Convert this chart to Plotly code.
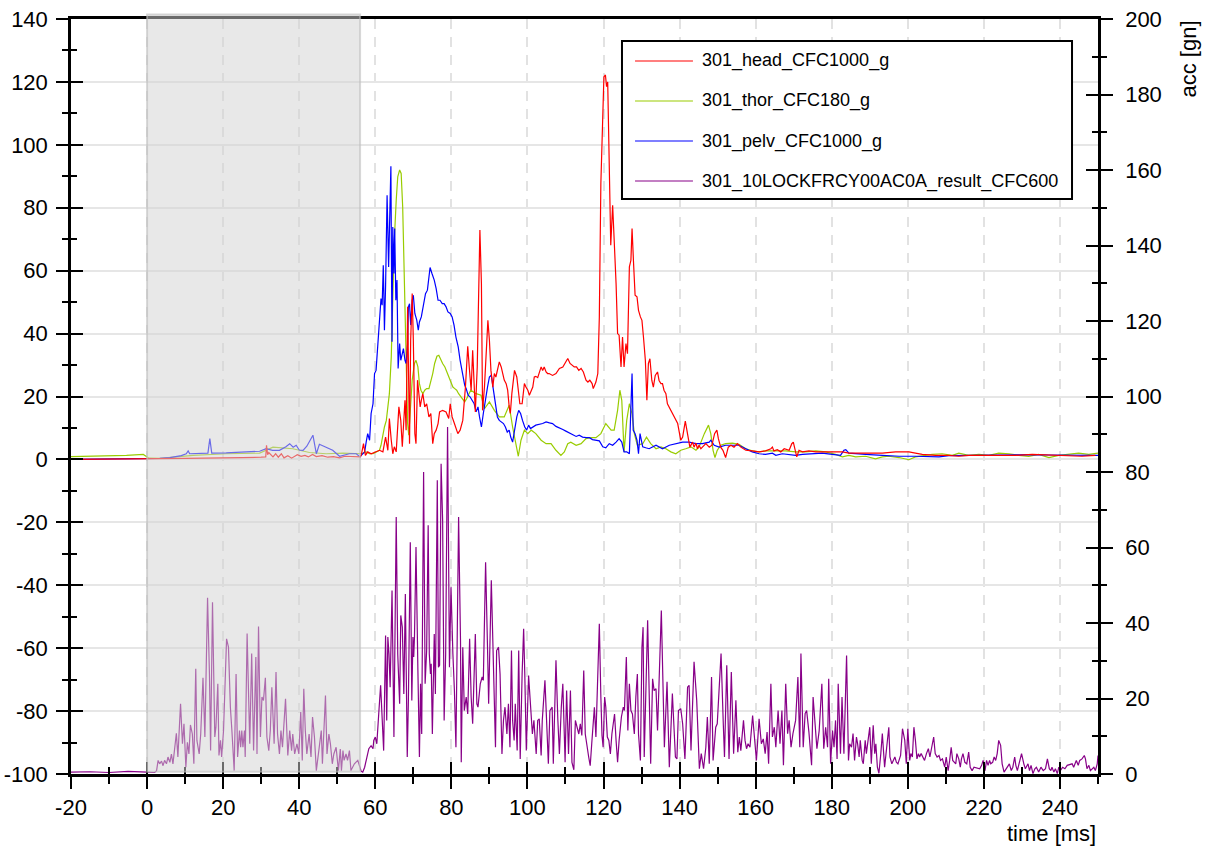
import plotly.graph_objects as go

# ---------------- data ----------------
# 301_head_CFC1000_g  (left axis)
head_t_a = [-20, -10, 0, 5, 10, 15, 20, 25, 30, 31.2,
            31.4, 31.7, 32.0, 32.6, 33.1, 33.8, 34.5, 35.3, 36.0, 37.0,
            38.0, 39.5, 40.5, 41.5, 42.4, 43.5, 44.5, 46.0, 47.5, 49.0,
            50.6, 52.0, 54.0, 56.0]
head_v_a = [0.0, 0.1, 0.0, 0.2, 0.3, 0.4, 0.6, 0.6, 0.7, 0.8,
            4.5, 1.5, 2.2, 1.5, 0.8, 1.8, 0.7, 1.8, 0.5, 1.2,
            0.4, 1.5, 1.0, 1.3, 0.8, 1.6, 0.9, 1.2, 0.7, 0.9,
            0.5, 1.0, 0.9, 0.8]
head_t_b = [56.3, 56.9, 57.4, 58.0, 58.9, 60.2, 61.1, 62.0, 62.7, 63.3,
            63.7, 64.2, 64.6, 65.0, 65.5, 66.2, 66.7, 67.1, 67.4, 67.8,
            68.1, 68.5, 69.0, 69.3, 69.7, 70.0, 70.4, 70.7, 71.1, 71.4,
            71.8, 72.1, 72.5, 73.0, 73.5, 74.1, 74.6, 75.1, 75.5, 76.0,
            76.5]
head_v_b = [1.3, 5.0, 1.3, 2.4, 1.8, 2.4, 2.9, 2.4, 7.1, 2.9,
            13.0, 6.1, 1.8, 4.0, 2.4, 16.7, 12.4, 4.0, 9.3, 18.8,
            9.3, 48.5, 5.0, 37.9, 52.7, 37.9, 8.2, 5.0, 25.2, 20.9,
            16.7, 18.8, 20.9, 16.7, 17.7, 13.5, 14.6, 5.0, 8.2, 9.3,
            11.4]
head_t_c = [76.9, 77.7, 78.6, 79.3, 79.7, 80.2, 80.8, 81.7, 82.3, 83.0,
            83.7, 84.3, 84.7, 85.2, 85.6, 86.1, 86.3, 86.8, 87.2, 87.5,
            87.9, 88.2, 88.7, 89.1, 89.6, 90.0, 90.4, 90.9, 91.3, 91.7,
            92.2, 92.6, 93.1, 93.5, 93.9, 94.4, 94.8, 95.2, 95.5, 95.9,
            96.6, 97.2, 97.5, 98.0, 98.6, 99.2, 99.6, 100.1, 100.5, 100.9,
            101.4, 101.8, 102.2, 102.7, 103.1, 103.6, 104.0, 104.4, 104.9, 105.3,
            105.7, 106.6, 107.5, 108.4, 109.3, 110.1, 110.6, 111.2, 111.7, 112.3,
            112.9, 113.5, 114.1, 114.7, 115.4, 115.9, 116.4, 117.0, 117.3, 118.0,
            118.5]
head_v_c = [15.1, 15.6, 15.1, 13.0, 17.7, 13.5, 11.4, 8.2, 9.3, 12.4,
            23.0, 36.0, 29.4, 22.0, 34.7, 18.8, 15.1, 29.4, 50.6, 72.9,
            55.9, 15.6, 23.0, 31.5, 44.2, 37.9, 28.3, 23.0, 27.3, 26.2,
            29.4, 31.0, 29.4, 27.3, 25.2, 24.1, 22.0, 16.7, 14.6, 20.9,
            28.3, 26.2, 23.0, 17.7, 17.7, 24.1, 23.0, 22.0, 20.4, 21.5,
            23.0, 26.2, 26.4, 26.0, 27.3, 29.4, 28.3, 29.4, 27.8, 27.3,
            27.3, 26.7, 27.3, 28.9, 29.4, 31.0, 32.1, 30.5, 29.9, 29.4,
            29.4, 28.3, 28.9, 27.8, 25.2, 24.6, 25.2, 24.1, 22.5, 24.6,
            27.3]
head_t_d = [118.9, 119.3, 119.8, 120.1, 120.5, 120.8, 121.1, 121.5, 121.9, 122.4,
            122.8, 123.3, 123.7, 124.1, 124.6, 125.0, 125.4, 125.9, 126.3, 126.8,
            127.2, 127.5, 127.9, 128.3, 128.8, 129.2, 129.7, 130.1, 130.5, 131.0,
            131.4, 131.8, 132.2, 132.7, 133.1, 133.6, 134.2, 134.6, 135.1, 135.5,
            135.9, 136.4]
head_v_d = [45.3, 87.7, 114.2, 121.6, 122.2, 118.5, 120.0, 98.3, 68.1, 80.8,
            70.8, 55.9, 40.0, 39.5, 29.4, 38.9, 29.4, 36.8, 33.6, 61.2,
            63.3, 73.4, 62.3, 52.2, 51.7, 47.4, 45.3, 44.2, 38.9, 31.5,
            18.8, 30.5, 32.0, 25.1, 23.0, 26.7, 27.8, 25.1, 24.1, 24.1,
            22.0, 20.9]
head_t_e = [136.8, 138.1, 139.5, 140.3, 140.8, 141.5, 142.1, 142.7, 143.4, 143.8,
            144.3, 144.7, 145.1, 145.6, 146.0, 146.9, 147.8, 148.5, 149.2, 149.8,
            150.2, 150.8, 151.4, 152.1, 152.8, 153.5, 154.3, 155.2, 156.1, 157.4,
            159.1, 160.9, 162.6, 164.0, 164.4, 164.8, 165.7, 166.6, 167.5, 168.8,
            169.5, 169.9, 170.4, 170.8, 171.4, 172.3, 174.0, 175.8, 177.5, 180.2,
            182.8, 184.5, 186.3, 189.8, 193.3, 196.8, 200.3, 202.0, 203.8, 207.3,
            210.8, 213.4, 216.0, 219.5, 223.9, 228.3, 232.7, 237.1, 241.4, 245.8,
            249.3]
head_v_e = [17.7, 14.6, 11.4, 6.1, 7.1, 12.2, 8.2, 3.9, 5.5, 3.9,
            5.2, 3.4, 4.5, 3.4, 3.9, 5.0, 3.9, 4.5, 8.2, 9.3,
            6.6, 3.9, 2.9, 0.6, 3.9, 4.5, 3.9, 5.0, 3.9, 2.9,
            2.7, 2.4, 2.7, 3.4, 3.9, 2.7, 3.1, 2.4, 3.4, 2.9,
            5.0, 5.5, 2.9, 0.8, 2.9, 2.4, 2.7, 2.4, 2.4, 2.4,
            2.4, 2.0, 2.0, 2.0, 2.0, 2.4, 2.4, 2.0, 1.6, 1.3,
            1.3, 1.0, 1.3, 1.3, 1.3, 1.3, 1.6, 1.4, 1.3, 1.0,
            1.3]

# 301_thor_CFC180_g  (left axis)
thor_t_a = [-20, -14.2, -5.4, -1.0, 0.5, 3.3, 12.1, 20.8, 29.6, 33.1,
            38.3, 42.7, 47.1, 51.5, 55.9]
thor_v_a = [0.9, 1.0, 1.3, 1.6, 0.4, 0.3, 1.3, 1.8, 2.0, 3.9,
            3.4, 2.2, 1.8, 2.0, 2.0]
thor_t_b = [56.3, 57.6, 58.5, 59.4, 60.2, 61.1, 61.5, 62.0, 62.4, 62.9,
            63.3, 63.7, 64.2, 64.6, 65.0, 65.5, 65.9, 66.4, 66.8, 67.2,
            67.7, 68.1, 68.5, 68.8, 69.2, 69.7, 70.3, 70.7, 71.2, 71.6,
            72.0, 72.5, 73.0, 73.5, 74.1, 74.6, 75.1, 75.6, 76.2, 76.7,
            77.2, 77.7, 78.3, 78.8, 79.3, 79.8, 80.4, 80.9, 81.4, 81.9,
            82.5, 83.0, 83.5, 84.0, 84.6, 85.1]
thor_v_b = [1.8, 2.4, 1.8, 1.8, 2.4, 2.9, 4.5, 8.2, 10.3, 12.4,
            16.7, 20.9, 32.6, 53.8, 69.7, 82.4, 89.8, 92.0, 90.9, 80.3,
            53.8, 27.3, 11.4, 7.7, 16.7, 25.2, 30.5, 31.5, 29.4, 24.1,
            22.0, 20.9, 22.0, 22.5, 22.5, 24.6, 27.3, 30.5, 32.8, 33.1,
            31.5, 30.5, 29.4, 27.8, 26.2, 24.6, 23.0, 22.5, 22.0, 20.9,
            19.9, 18.8, 18.3, 19.3, 20.9, 22.0]
thor_t_c = [86.5, 87.8, 88.7, 90.0, 91.3, 92.6, 93.9, 95.2, 96.1, 97.0,
            97.6, 98.3, 99.2, 100.1, 101.0, 102.2, 103.6, 104.9, 106.2, 107.5,
            108.8, 109.7, 110.6, 111.4, 112.8, 114.1, 115.4, 116.7, 118.0, 119.3,
            120.6, 122.0, 122.8, 123.7, 124.3, 124.8, 125.4, 126.1, 126.8, 127.5,
            128.1, 128.9, 130.3, 131.3, 132.4, 133.8, 135.1, 136.4, 137.7, 139.0,
            140.3, 141.6, 143.0, 144.3]
thor_v_c = [20.9, 20.4, 16.1, 18.3, 15.6, 13.5, 13.5, 17.2, 10.3, 4.0,
            1.0, 6.1, 9.3, 8.2, 9.3, 8.2, 6.1, 5.0, 5.0, 2.9,
            1.3, 2.4, 5.0, 5.5, 4.5, 5.0, 6.6, 6.9, 6.9, 8.2,
            11.4, 9.3, 9.3, 15.6, 22.0, 18.8, 2.4, 12.4, 17.7, 14.5,
            8.2, 4.5, 5.0, 7.1, 5.0, 3.4, 4.0, 3.4, 2.4, 1.8,
            2.9, 3.4, 4.0, 2.9]
thor_t_d = [145.1, 146.5, 147.6, 148.2, 148.8, 149.3, 149.9, 150.8, 152.1, 153.9,
            155.6, 157.4, 159.1, 160.9, 162.6, 165.3, 167.9, 170.5, 173.2, 175.8,
            178.4, 181.0, 182.8, 184.5, 186.3, 188.9, 191.5, 193.3, 195.0, 197.7,
            200.3, 202.0, 204.7, 206.4, 209.0, 211.7, 213.4, 216.0, 218.7, 221.3,
            223.9, 226.6, 229.2, 231.8, 234.4, 237.1, 239.7, 242.3, 244.9, 247.6,
            250.0]
thor_v_d = [3.9, 8.2, 10.9, 8.2, 2.9, 0.6, 2.9, 4.5, 5.0, 5.2,
            4.8, 3.4, 2.7, 2.4, 2.7, 2.7, 2.7, 2.4, 2.4, 2.7,
            2.4, 1.6, 0.8, 1.3, 0.8, 1.0, 0.2, 0.8, 1.0, 0.6,
            -0.1, 0.8, 1.3, 1.6, 1.8, 1.3, 2.0, 1.3, 1.6, 1.3,
            2.0, 1.8, 1.3, 1.0, 1.6, 0.6, 1.3, 1.6, 2.0, 1.6,
            2.0]

# 301_pelv_CFC1000_g  (left axis)
pelv_t_a = [-20, -10, -5, 0, 3.3, 6.0, 9.0, 10.3, 10.8, 11.2,
            14.0, 16.0, 16.5, 17.0, 20.8, 25.0, 29.6, 31.3, 33.0, 34.8,
            36.5, 37.5, 38.4, 39.2, 40.0, 41.0, 42.0, 43.6, 44.5, 45.3,
            46.5, 48.8, 50.6, 53.2, 55.0, 56.0]
pelv_v_a = [0.0, 0.1, 0.0, 0.1, 0.3, 0.6, 1.2, 1.8, 2.7, 1.8,
            1.8, 2.0, 6.6, 2.0, 2.1, 2.3, 2.6, 3.4, 2.9, 2.9,
            4.0, 5.0, 3.9, 4.5, 3.0, 2.9, 4.2, 7.7, 1.8, 4.8,
            4.2, 2.9, 1.0, 1.8, 1.8, 0.8]
pelv_t_b = [56.3, 57.2, 57.6, 58.0, 58.5, 58.9, 59.4, 59.8, 60.2, 60.7,
            61.1, 61.5, 61.8, 62.1, 62.2, 62.4, 62.7, 63.1, 63.5, 63.7,
            64.1, 64.3, 64.4, 64.6, 64.9, 65.1, 65.4, 65.7, 66.0, 66.4,
            66.7, 67.1, 67.4, 67.8, 68.1, 68.5, 68.7, 69.0, 69.3, 69.7,
            70.0, 70.4, 70.9, 71.3, 71.6, 72.1, 72.7, 73.2, 73.7, 74.1,
            74.4, 74.9, 75.5, 76.0, 76.5, 77.0, 77.6, 78.1, 78.6, 79.1,
            79.7, 80.2, 80.7, 81.2, 81.8, 82.3, 83.0, 83.5, 83.9, 84.4,
            84.9, 85.4, 86.0, 86.5, 87.0, 87.4, 87.9, 88.4, 88.9, 89.5,
            90.0, 90.5, 91.0, 91.6, 92.1, 92.6, 93.1, 93.7, 94.2, 94.7,
            95.2, 95.6, 96.1, 96.6, 97.2, 97.7, 98.2, 98.7, 99.3, 99.8,
            100.3, 100.8, 101.4, 102.2]
pelv_v_b = [1.3, 2.4, 5.5, 8.2, 6.1, 14.6, 17.7, 27.3, 28.3, 36.8,
            42.1, 51.1, 49.0, 61.7, 55.9, 41.1, 54.9, 84.0, 61.2, 69.7,
            93.2, 53.8, 37.4, 73.9, 59.1, 73.4, 50.6, 57.0, 28.9, 36.8,
            31.5, 33.6, 35.2, 31.5, 30.5, 36.8, 48.5, 49.5, 42.7, 50.6,
            52.2, 46.4, 44.3, 41.1, 43.7, 45.3, 49.5, 52.7, 53.8, 59.1,
            61.0, 59.1, 57.0, 54.3, 50.6, 50.6, 49.5, 49.5, 48.5, 46.9,
            46.4, 45.3, 42.7, 38.9, 35.8, 31.5, 27.3, 23.6, 22.5, 20.4,
            19.9, 18.8, 17.7, 15.1, 16.7, 13.5, 10.3, 14.6, 18.8, 23.0,
            26.2, 26.8, 22.5, 17.7, 13.5, 12.4, 11.9, 11.4, 10.3, 8.7,
            9.3, 7.1, 5.5, 9.3, 13.5, 15.6, 14.6, 12.4, 10.3, 9.3,
            10.9, 9.8, 10.3, 10.9]
pelv_t_c = [104.0, 104.9, 105.8, 106.6, 107.5, 108.4, 109.3, 110.1, 111.0, 111.9,
            112.8, 113.6, 114.5, 115.4, 116.3, 117.1, 118.0, 118.9, 119.8, 120.6,
            121.5, 122.4, 123.3, 124.1, 124.8, 125.4, 126.1, 126.8, 127.2, 127.5,
            127.8, 128.3, 128.8, 129.2, 129.6, 130.3, 131.1, 132.0]
pelv_v_c = [11.4, 11.9, 11.6, 11.4, 10.5, 10.1, 9.5, 9.0, 8.4, 7.7,
            7.3, 7.7, 7.1, 6.9, 6.9, 6.3, 6.1, 5.9, 4.0, 3.7,
            5.0, 4.5, 5.5, 6.6, 5.5, 2.4, 2.4, 1.8, 16.7, 27.3,
            9.3, 8.2, 6.1, 1.8, 8.2, 4.0, 3.7, 3.4]
pelv_t_d = [133.8, 135.5, 137.3, 139.0, 140.8, 142.5, 144.3, 146.0, 147.8, 148.2,
            149.1, 150.4, 152.1, 153.9, 155.6, 157.4, 159.1, 160.9, 162.6, 164.4,
            165.3, 167.0, 168.8, 170.5, 172.3, 174.0, 175.8, 177.5, 180.1, 182.3,
            183.2, 183.7, 184.5, 186.3, 188.9, 193.3, 197.7, 202.0, 206.4, 208.2,
            210.8, 215.2, 219.5, 223.9, 228.3, 232.7, 237.1, 241.4, 245.8, 250.0]
pelv_v_d = [4.5, 3.4, 4.5, 5.0, 5.5, 5.5, 5.0, 5.0, 5.5, 6.1,
            4.5, 3.9, 4.5, 4.5, 4.5, 3.4, 2.4, 1.8, 1.6, 2.0,
            1.3, 1.8, 1.6, 1.3, 1.6, 1.8, 1.8, 2.0, 1.6, 1.3,
            2.9, 3.1, 2.0, 1.8, 1.6, 1.3, 1.0, 1.0, 1.0, 0.8,
            1.2, 1.3, 1.3, 1.4, 1.4, 1.5, 1.4, 1.4, 1.4, 1.3]

# 301_10LOCKFRCY00AC0A_result_CFC600  (right axis)
lock_t_a = [-20, -15, -10, -5, 0, 2.0,
            2.5, 2.9, 3.3, 3.8, 4.2, 4.6, 5.1, 5.5, 6.0, 6.4,
            6.8, 7.1, 7.7, 8.1, 8.8, 9.3, 9.7, 10.2, 10.6, 11.0,
            11.4, 11.9, 12.3, 12.8, 13.1, 13.7, 14.1, 14.7, 15.2, 15.9,
            16.4, 16.7, 17.2, 17.8, 18.1, 18.6, 18.9, 19.3, 19.6, 20.1,
            20.9, 21.4, 21.9, 22.3, 22.9, 23.4, 23.8, 24.3, 24.6, 24.9,
            25.2, 25.6, 25.8, 26.3, 27.0, 27.5, 28.0, 28.6, 28.9, 29.3,
            29.8, 30.2, 30.6, 31.1, 31.5, 32.0, 32.4, 32.8, 33.4, 33.9,
            34.3, 34.8, 35.2, 35.6, 35.9, 36.4, 37.0, 37.5, 38.0, 38.3,
            38.8, 39.4, 39.9, 40.4, 40.8, 41.2, 41.6, 42.0, 42.6, 43.1,
            43.5, 44.0, 44.5, 44.9, 45.4, 45.8, 46.1, 46.4, 46.9, 47.3,
            47.8, 48.2, 48.7, 49.1, 49.7, 50.3, 50.8, 51.1, 51.5, 51.8,
            52.3, 52.7, 53.2, 53.6, 54.5, 55.4, 56.3]
lock_v_a = [0.5, 0.6, 0.4, 0.7, 0.5, 0.4,
            0.9, 3.6, 2.7, 3.4, 2.2, 3.6, 2.7, 4.5, 3.1, 5.3,
            2.7, 5.3, 10.8, 4.5, 18.6, 8.0, 13.3, 1.8, 8.4, 5.3,
            13.0, 10.6, 2.7, 27.9, 8.9, 5.3, 10.6, 25.5, 9.8, 46.7,
            26.5, 6.2, 45.5, 9.8, 12.4, 23.9, 4.9, 8.9, 4.5, 11.5,
            35.8, 33.6, 17.7, 11.5, 0.9, 26.5, 4.5, 11.5, 7.1, 11.5,
            7.1, 11.5, 4.5, 37.2, 8.0, 31.9, 6.2, 31.0, 5.3, 39.1,
            9.8, 20.4, 19.5, 25.5, 9.8, 6.2, 11.5, 23.0, 8.0, 27.0,
            10.6, 5.3, 11.5, 7.1, 12.4, 19.9, 4.9, 11.5, 6.2, 10.6,
            5.3, 8.0, 5.3, 16.4, 3.6, 22.6, 11.5, 5.3, 10.6, 4.5,
            15.1, 9.8, 0.9, 4.5, 8.0, 11.5, 2.7, 11.5, 20.8, 5.3,
            10.6, 8.0, 2.7, 5.3, 7.1, 0.9, 6.6, 0.9, 6.2, 3.6,
            5.3, 3.6, 6.2, 0.9, 2.7, 3.6, 0.7]
lock_t_b = [56.7, 57.2, 57.8, 58.3, 58.9, 59.4, 59.6, 60.0, 60.4, 60.7,
            60.9, 61.4, 61.7, 62.2, 62.7, 63.0, 63.3, 63.6, 63.9, 64.4,
            64.9, 65.5, 65.9, 66.4, 66.7, 67.1, 67.5, 67.9, 68.4, 68.7,
            69.2, 69.6, 69.9, 70.1, 70.3, 70.7, 71.2, 71.6, 71.9, 72.2,
            72.7, 73.1, 73.5, 73.9, 74.2, 74.5, 74.7, 75.0, 75.5, 75.8,
            76.3, 76.6, 76.9, 77.3, 77.7, 78.1, 78.5, 79.0, 79.5, 79.9,
            80.4, 80.8, 81.2, 81.9, 82.4, 82.6, 83.0, 83.4, 83.9, 84.3,
            84.8, 85.2, 85.6, 85.9, 86.3, 86.7, 87.0, 87.6, 88.1, 88.4,
            89.0, 89.5, 89.8, 90.5, 91.1, 91.6, 91.9, 92.4, 92.8, 93.3,
            93.7, 94.1, 94.6, 95.0, 95.4, 95.8, 96.1, 96.5, 96.8, 97.3]
lock_v_b = [0.5, 1.8, 4.5, 6.7, 7.5, 6.7, 8.9, 9.8, 8.0, 14.2,
            15.9, 23.5, 15.9, 6.2, 36.7, 14.2, 36.3, 31.8, 23.0, 48.6,
            9.8, 68.1, 31.8, 18.6, 42.0, 38.9, 21.2, 47.7, 4.5, 19.5,
            61.4, 19.5, 36.3, 31.0, 36.3, 60.1, 27.4, 4.5, 23.9, 10.6,
            80.0, 23.9, 32.7, 65.9, 31.8, 26.5, 29.2, 10.6, 37.1, 21.2,
            77.8, 28.3, 28.8, 82.2, 67.2, 14.2, 31.8, 91.9, 28.3, 49.5,
            31.8, 22.1, 7.1, 68.1, 35.4, 3.1, 33.6, 16.8, 20.4, 15.9,
            35.8, 20.4, 13.3, 23.0, 37.1, 18.6, 17.7, 23.9, 25.7, 24.8,
            56.1, 33.6, 18.6, 51.3, 30.1, 7.1, 32.7, 33.6, 26.5, 5.3,
            14.2, 17.7, 10.6, 18.6, 7.1, 32.7, 14.2, 8.9, 18.6, 6.2]
lock_t_c = [97.7, 98.1, 98.6, 99.0, 99.3, 99.7, 100.3, 100.8, 101.3, 101.7,
            102.3, 102.7, 103.1, 103.6, 103.9, 104.6, 105.1, 105.5, 105.9, 106.5,
            106.8, 107.2, 107.5, 108.0, 108.4, 108.9, 109.3, 109.9, 110.3, 110.8,
            111.3, 111.7, 112.2, 112.6, 113.0, 113.5, 113.9, 114.3, 114.8, 115.2,
            116.1, 116.5, 116.9, 117.2, 117.6, 118.0, 118.9, 119.3, 119.6, 119.9,
            120.3, 120.6, 121.0, 121.4, 121.8, 122.2, 122.6, 122.9, 123.3, 123.7,
            124.1, 124.7, 125.2, 125.5, 126.0, 126.4, 126.8, 127.2, 127.6, 128.1,
            128.5, 128.9, 129.2, 129.7, 130.1, 130.4, 130.7]
lock_v_c = [32.7, 4.0, 26.5, 38.5, 26.5, 6.2, 26.1, 17.7, 10.6, 14.2,
            5.3, 14.2, 14.6, 4.9, 14.2, 24.8, 9.8, 2.7, 16.8, 17.7,
            2.7, 23.0, 30.1, 14.2, 5.3, 17.7, 23.9, 3.1, 22.1, 5.3,
            22.1, 3.1, 1.1, 14.2, 12.8, 10.6, 13.3, 10.2, 27.4, 10.6,
            4.5, 2.2, 8.0, 12.4, 17.7, 9.8, 39.8, 20.4, 10.2, 7.1,
            20.4, 17.7, 9.8, 8.9, 5.3, 10.6, 14.2, 15.9, 8.9, 3.1,
            8.9, 15.1, 17.7, 16.8, 31.0, 11.5, 23.9, 16.8, 15.9, 10.6,
            20.4, 26.5, 10.6, 3.6, 33.6, 38.9, 4.5]
lock_t_d = [131.6, 132.4, 132.9, 133.3, 133.8, 134.2, 135.2, 136.0, 136.7, 137.3,
            138.1, 138.9, 139.3, 139.7, 140.3, 140.8, 141.4, 142.1, 142.5, 143.0,
            143.8, 144.5, 145.2, 145.7, 146.3, 146.9, 147.3, 147.8, 148.4, 148.8,
            149.5, 149.9, 150.9, 151.5, 151.8, 152.4, 153.0, 153.6, 154.2, 154.8,
            155.3, 155.7, 156.1, 156.8, 157.2, 157.6, 158.0, 158.5, 159.2, 159.9,
            160.2, 160.9, 161.5, 162.0, 162.5, 163.0, 163.4, 164.0, 164.4, 164.9,
            165.3, 165.9, 166.4, 166.9, 167.3, 167.9, 168.4, 168.8, 169.3, 169.8,
            170.5, 171.1, 171.6, 171.9, 172.5, 173.0, 173.4, 174.0, 174.7, 175.1,
            175.5, 176.1, 176.7, 177.4, 177.9, 178.4, 178.9, 179.2, 179.7, 180.2,
            180.6, 181.0, 181.4, 181.7, 182.3, 182.7, 183.2, 183.9, 184.4]
lock_v_d = [40.7, 2.7, 25.2, 22.1, 22.6, 11.5, 43.3, 7.1, 24.4, 1.8,
            21.3, 4.5, 4.0, 16.8, 17.3, 13.3, 4.0, 23.0, 23.5, 6.2,
            29.7, 19.5, 1.4, 5.4, 1.4, 7.1, 15.1, 2.7, 25.7, 3.6,
            12.4, 13.3, 31.9, 12.9, 4.5, 28.8, 4.0, 27.0, 5.4, 19.5,
            5.8, 9.8, 6.2, 14.2, 8.9, 6.7, 8.0, 7.1, 15.5, 7.1,
            3.6, 14.6, 8.0, 9.3, 5.4, 11.1, 2.7, 23.9, 9.8, 12.4,
            7.1, 16.8, 8.0, 16.8, 2.3, 23.9, 10.7, 14.2, 7.1, 10.7,
            14.2, 25.7, 7.1, 31.9, 7.1, 16.0, 16.8, 11.1, 2.3, 20.4,
            15.1, 6.7, 11.5, 23.9, 6.7, 12.4, 7.1, 25.2, 2.7, 11.5,
            7.1, 14.2, 4.0, 23.9, 5.4, 20.4, 5.4, 31.4, 3.6]
lock_t_e = [184.7, 185.2, 185.6, 186.0, 186.5, 186.8, 187.2, 187.5, 188.0, 188.3,
            188.8, 189.1, 189.5, 190.0, 190.4, 190.9, 191.3, 191.6, 192.0, 192.4,
            192.9, 193.3, 193.9, 194.4, 195.0, 195.3, 195.8, 196.6, 197.0, 197.4,
            198.1, 198.6, 199.2, 199.6, 200.0, 200.5, 200.8, 201.2, 201.6, 202.0,
            202.4, 202.8, 203.1, 203.5, 204.4, 204.9, 205.4, 205.8, 206.3, 206.8,
            207.2, 207.7, 208.2, 208.6, 209.1, 209.7, 210.1, 210.6, 211.0, 211.4,
            211.8, 212.6, 212.9, 213.4, 213.8, 214.1, 214.5, 215.0, 215.5, 216.0,
            216.4, 216.9, 217.4, 218.9, 219.4, 219.8, 220.3, 220.7, 221.1, 221.5,
            221.8, 222.3, 222.7, 223.1, 223.5, 223.9, 224.4, 224.8, 225.3, 226.2,
            226.7, 227.2, 227.6, 228.1, 228.4, 228.8, 229.4, 229.9, 230.5, 230.9,
            231.6, 232.0, 232.4, 232.9, 233.4, 233.8, 234.4, 235.0, 235.6, 236.2,
            236.7, 237.2, 237.6, 237.9, 238.4, 238.8, 239.3, 239.7, 240.1, 240.7,
            241.3, 241.9, 243.2, 243.6, 244.3, 244.8, 245.2, 245.8, 246.4, 246.7,
            247.1, 247.6, 248.0, 248.5, 248.9, 249.3, 249.8, 250.0]
lock_v_e = [8.0, 7.1, 10.7, 3.6, 9.8, 8.0, 4.5, 8.9, 3.6, 2.7,
            8.9, 5.4, 8.4, 12.4, 2.7, 12.9, 5.4, 8.0, 1.8, 0.2,
            5.4, 10.7, 1.8, 6.7, 12.4, 4.5, 2.7, 4.5, 3.1, 2.7,
            4.9, 12.0, 8.9, 2.7, 12.0, 3.6, 5.4, 4.5, 12.4, 8.9,
            4.0, 5.4, 4.5, 5.4, 3.6, 5.4, 6.7, 4.5, 7.1, 9.8,
            5.4, 4.5, 4.9, 3.6, 4.0, 1.8, 4.5, 0.9, 3.6, 7.1,
            3.6, 2.7, 5.4, 4.0, 1.8, 4.0, 5.4, 3.1, 2.7, 5.8,
            1.8, 0.9, 1.8, 1.4, 2.3, 3.6, 0.9, 3.6, 2.3, 3.6,
            2.7, 3.1, 4.5, 3.6, 5.4, 8.9, 7.6, 2.7, 0.5, 1.8,
            2.7, 0.9, 1.8, 4.5, 2.3, 0.9, 3.6, 5.4, 2.7, 1.4,
            2.7, 0.9, 2.3, 0.1, 1.4, 1.8, 0.5, 1.8, 0.9, 1.4,
            4.0, 1.4, 0.9, 1.8, 0.5, 1.4, 0.1, 1.8, 0.9, 1.8,
            1.4, 2.3, 2.7, 1.8, 3.6, 2.3, 3.6, 4.0, 4.9, 4.0,
            1.4, 2.3, 0.9, 1.4, 1.8, 0.9, 2.7, 4.9]

series_names = ["301_head_CFC1000_g", "301_thor_CFC180_g", "301_pelv_CFC1000_g",
                "301_10LOCKFRCY00AC0A_result_CFC600"]
series_colors = ["#ff0000", "#99cc00", "#0000ff", "#880088"]

x_ticks = list(range(-20, 241, 20))
left_ticks = list(range(-100, 141, 20))
right_ticks = list(range(0, 201, 20))
shade_range = [0, 56]

# ---------------- assemble ----------------
head_t = head_t_a + head_t_b + head_t_c + head_t_d + head_t_e
head_v = head_v_a + head_v_b + head_v_c + head_v_d + head_v_e
thor_t = thor_t_a + thor_t_b + thor_t_c + thor_t_d
thor_v = thor_v_a + thor_v_b + thor_v_c + thor_v_d
pelv_t = pelv_t_a + pelv_t_b + pelv_t_c + pelv_t_d
pelv_v = pelv_v_a + pelv_v_b + pelv_v_c + pelv_v_d
lock_t = lock_t_a + lock_t_b + lock_t_c + lock_t_d + lock_t_e
lock_v = lock_v_a + lock_v_b + lock_v_c + lock_v_d + lock_v_e

FONT = "Liberation Sans, Arial, sans-serif"
fig = go.Figure()

fig.add_trace(go.Scatter(x=lock_t, y=lock_v, mode="lines", yaxis="y2",
                         line=dict(color=series_colors[3], width=1.2),
                         name=series_names[3], showlegend=False))
fig.add_trace(go.Scatter(x=thor_t, y=thor_v, mode="lines",
                         line=dict(color=series_colors[1], width=1.2),
                         name=series_names[1], showlegend=False))
fig.add_trace(go.Scatter(x=pelv_t, y=pelv_v, mode="lines",
                         line=dict(color=series_colors[2], width=1.2),
                         name=series_names[2], showlegend=False))
fig.add_trace(go.Scatter(x=head_t, y=head_v, mode="lines",
                         line=dict(color=series_colors[0], width=1.2),
                         name=series_names[0], showlegend=False))

# dummy traces so the "inside tick" overlay axes are drawn
fig.add_trace(go.Scatter(x=[None], y=[None], xaxis="x2", yaxis="y", showlegend=False, hoverinfo="skip"))
fig.add_trace(go.Scatter(x=[None], y=[None], xaxis="x", yaxis="y3", showlegend=False, hoverinfo="skip"))
fig.add_trace(go.Scatter(x=[None], y=[None], xaxis="x", yaxis="y4", showlegend=False, hoverinfo="skip"))

tickfont = dict(family=FONT, size=22, color="black")
XR = [-20, 250]
YR = [-100, 140]
Y2R = [0, 200]
minor_out = lambda L: dict(dtick=10, tick0=0, ticks="outside", ticklen=L, tickwidth=2,
                           tickcolor="black", showgrid=False)
minor_in = lambda L: dict(dtick=10, tick0=0, ticks="inside", ticklen=L, tickwidth=2,
                          tickcolor="black", showgrid=False)

fig.update_layout(
    width=1205, height=847,
    margin=dict(l=71, r=107, t=19, b=73, autoexpand=False),
    paper_bgcolor="white", plot_bgcolor="white",
    showlegend=False,
    xaxis=dict(range=XR, tickvals=x_ticks, ticktext=[str(v) for v in x_ticks],
               ticks="outside", ticklen=12, tickwidth=2, automargin=False,
               tickcolor="black", showline=True, linewidth=2.5, linecolor="black",
               mirror=True, zeroline=False, showgrid=True, gridcolor="#e2e2e2",
               gridwidth=1.5, griddash="10px,8px", tickfont=tickfont,
               minor=minor_out(7)),
    xaxis2=dict(range=XR, overlaying="x", anchor="y", side="bottom", tickvals=x_ticks,
                ticks="inside", ticklen=12, tickwidth=2, tickcolor="black", automargin=False,
                showticklabels=False, showline=False, showgrid=False, zeroline=False,
                minor=minor_in(7)),
    yaxis=dict(range=YR, tickvals=left_ticks, ticktext=[str(v) for v in left_ticks],
               ticks="outside", ticklen=12, tickwidth=2, automargin=False,
               tickcolor="black", showline=True, linewidth=2.5, linecolor="black",
               zeroline=False, showgrid=True, gridcolor="#e6e6e6", gridwidth=1.5,
               tickfont=tickfont, ticklabelstandoff=4, minor=minor_out(6)),
    yaxis2=dict(range=Y2R, overlaying="y", side="right", anchor="x", tickvals=right_ticks,
                ticktext=[str(v) for v in right_ticks], automargin=False,
                ticks="outside", ticklen=12, tickwidth=2, tickcolor="black",
                showline=True, linewidth=2.5, linecolor="black", zeroline=False,
                showgrid=False, tickfont=tickfont, ticklabelstandoff=8,
                minor=minor_out(6)),
    yaxis3=dict(range=YR, overlaying="y", side="left", anchor="x", tickvals=left_ticks,
                ticks="inside", ticklen=12, tickwidth=2, tickcolor="black", automargin=False,
                showticklabels=False, showline=False, showgrid=False, zeroline=False,
                minor=minor_in(6)),
    yaxis4=dict(range=Y2R, overlaying="y", side="right", anchor="x", tickvals=right_ticks,
                ticks="inside", ticklen=12, tickwidth=2, tickcolor="black", automargin=False,
                showticklabels=False, showline=False, showgrid=False, zeroline=False,
                minor=minor_in(6)),
)

# shaded time window (drawn over the curves, translucent)
fig.add_shape(type="rect", xref="x", yref="paper", x0=shade_range[0], x1=shade_range[1],
              y0=0.003, y1=1.006, fillcolor="rgba(210,210,210,0.51)",
              line=dict(color="rgba(190,190,190,0.6)", width=2), layer="above")

# legend box
LEG_X0, LEG_X1, LEG_Y0, LEG_Y1 = 0.5365, 0.9747, 0.7616, 0.9709
fig.add_shape(type="rect", xref="paper", yref="paper", x0=LEG_X0, x1=LEG_X1,
              y0=LEG_Y0, y1=LEG_Y1, fillcolor="white",
              line=dict(color="black", width=2), layer="above")
leg_rows = [0.9444, 0.8914, 0.8384, 0.7854]
for name, col, yy in zip(series_names, series_colors, leg_rows):
    fig.add_shape(type="line", xref="paper", yref="paper", x0=0.5492, x1=0.6056,
                  y0=yy, y1=yy, line=dict(color=col, width=1.2), layer="above")
    fig.add_annotation(text=name, xref="paper", yref="paper", x=0.6125, y=yy,
                       xanchor="left", yanchor="middle", showarrow=False,
                       font=dict(family=FONT, size=18, color="black"))

# axis titles
fig.add_annotation(text="time [ms]", xref="paper", yref="paper", x=1, y=0,
                   xanchor="right", yanchor="middle", yshift=-59, showarrow=False,
                   font=dict(family=FONT, size=22, color="black"))
fig.add_annotation(text="acc [gn]", xref="paper", yref="paper", x=1, y=1,
                   xanchor="center", yanchor="top", xshift=90, yshift=0, textangle=-90,
                   showarrow=False, font=dict(family=FONT, size=22, color="black"))

fig.write_html("out.html")
